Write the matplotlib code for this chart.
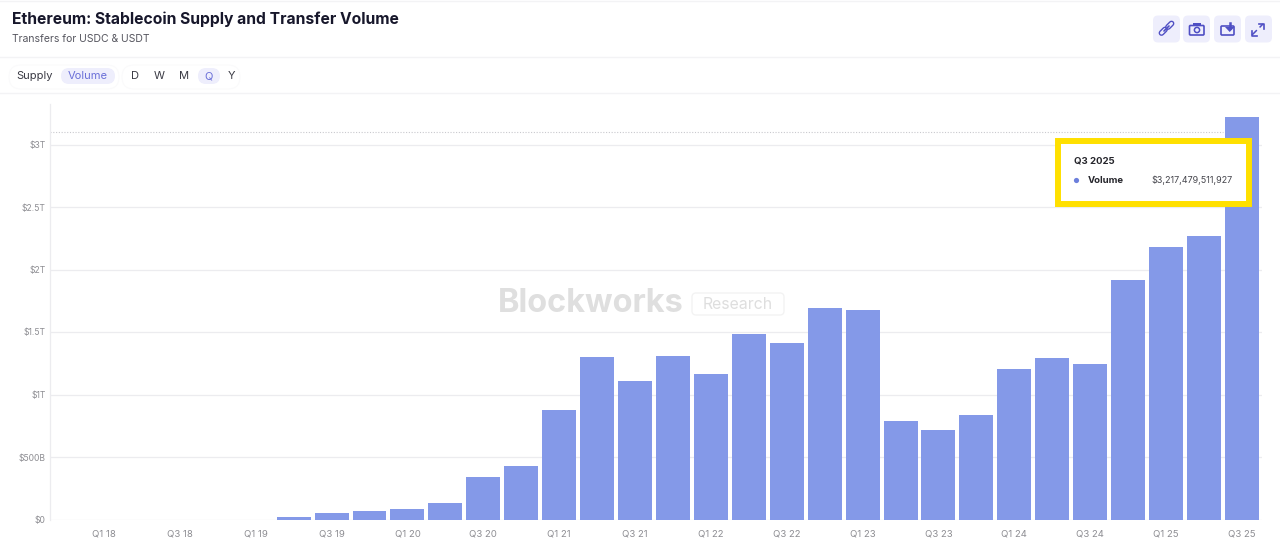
import matplotlib
matplotlib.use("Agg")
import matplotlib.pyplot as plt
from matplotlib.patches import FancyBboxPatch, Rectangle, Circle, Polygon
import numpy as np

W, H = 1280, 552

# ─ DATA ─
quarters = [
    "Q1 18", "Q2 18", "Q3 18", "Q4 18", "Q1 19", "Q2 19", "Q3 19", "Q4 19",
    "Q1 20", "Q2 20", "Q3 20", "Q4 20", "Q1 21", "Q2 21", "Q3 21", "Q4 21",
    "Q1 22", "Q2 22", "Q3 22", "Q4 22", "Q1 23", "Q2 23", "Q3 23", "Q4 23",
    "Q1 24", "Q2 24", "Q3 24", "Q4 24", "Q1 25", "Q2 25", "Q3 25",
]
volume = [
    0, 0, 0, 0, 0, 0.018, 0.055, 0.07,
    0.088, 0.135, 0.34, 0.43, 0.875, 1.3, 1.11, 1.31,
    1.165, 1.485, 1.41, 1.69, 1.675, 0.785, 0.715, 0.835,
    1.205, 1.29, 1.245, 1.92, 2.18, 2.265, 3.217479511927,
]
y_ticks = [0, 0.5, 1, 1.5, 2, 2.5, 3]
y_labels = ["$0", "$500B", "$1T", "$1.5T", "$2T", "$2.5T", "$3T"]
ref_level = 3.104

BAR = "#8499e8"
GRID = "#ececef"
INK = "#17172b"
GREY = "#8d8d92"
PILL = "#eeeefc"
ACCENT = "#6a6fd8"
ICON = "#4f4fc4"

plt.rcParams["font.family"] = ["Inter", "DejaVu Sans"]

fig = plt.figure(figsize=(W / 100, H / 100), dpi=100, facecolor="white")

# ─ CHART ─
px_left, px_right, px_top, px_zero = 50, 1262, 104, 519.5
ax = fig.add_axes([px_left / W, 1 - px_zero / H,
                   (px_right - px_left) / W, (px_zero - px_top) / H])
x = np.arange(len(quarters))
ax.bar(x, volume, width=0.895, color=BAR, zorder=3)
ax.hlines(ref_level, -1.424, 29.5, color="#c9c9ce", lw=0.8, ls=(0, (1, 1.5)), zorder=1)
ax.set_xlim(-1.424, 30.53)
ax.set_ylim(0, (px_zero - px_top) / 125)
ax.set_yticks(y_ticks, y_labels)
ax.set_xticks(x[::2], quarters[::2])
ax.tick_params(axis="both", length=0, labelcolor=GREY)
ax.tick_params(axis="x", pad=7, labelsize=6.9)
ax.tick_params(axis="y", pad=3, labelsize=6.2)
ax.grid(axis="y", color=GRID, lw=0.9, zorder=0)
ax.set_axisbelow(True)
for name in ["top", "right", "bottom"]:
    ax.spines[name].set_visible(False)
ax.spines["left"].set_color(GRID)
ax.spines["left"].set_linewidth(0.9)

# ─ PAGE OVERLAY (pixel coordinates) ─
ui = fig.add_axes([0, 0, 1, 1], zorder=5)
ui.set_xlim(0, W)
ui.set_ylim(H, 0)
ui.axis("off")
ui.patch.set_alpha(0)

for yy in [0.5, 57, 93]:
    ui.plot([0, W], [yy, yy], color="#f3f3f5", lw=1)

ui.text(12, 19.5, "Ethereum: Stablecoin Supply and Transfer Volume", fontsize=11.27,
        fontweight="bold", color=INK, va="center")
ui.text(12, 38.5, "Transfers for USDC & USDT", fontsize=7.5, color="#55555e", va="center")


def pill(x0, y0, w, h, color, ec="none"):
    r = min(w, h) / 2
    ui.add_patch(FancyBboxPatch((x0 + r, y0 + r), w - 2 * r, h - 2 * r,
                                boxstyle=f"round,pad={r}", fc=color, ec=ec, lw=0.8))


pill(9, 65, 110, 24, "white", "#fafafb")
pill(122, 65, 118, 24, "white", "#fafafb")
pill(61, 68, 54, 16, PILL)
pill(198, 68, 22, 16, PILL)
ui.text(35, 76, "Supply", fontsize=8, color="#3a3a44", ha="center", va="center")
ui.text(87.5, 76, "Volume", fontsize=8, color=ACCENT, ha="center", va="center")
for label, cx, col in [("D", 135, "#3a3a44"), ("W", 159, "#3a3a44"), ("M", 184, "#3a3a44"),
                       ("Q", 208.5, ACCENT), ("Y", 231.5, "#3a3a44")]:
    ui.text(cx, 76, label, fontsize=8, color=col, ha="center", va="center")

# toolbar buttons
for bx in [1153, 1183, 1214, 1245]:
    ui.add_patch(FancyBboxPatch((bx + 5, 20.5), 17, 17, boxstyle="round,pad=5",
                                fc=PILL, ec="none"))

# link icon: two diagonal links, each an outlined capsule
for seg in [((1161.5, 33), (1165, 29.5)), ((1168, 27), (1171.5, 23.5))]:
    xs, ys = zip(*seg)
    ui.plot(xs, ys, color=ICON, lw=4.2, solid_capstyle="round")
    ui.plot(xs, ys, color=PILL, lw=2.2, solid_capstyle="round")
ui.plot([1164, 1169], [31, 26], color=ICON, lw=1.2, solid_capstyle="round")
# camera icon
ui.add_patch(FancyBboxPatch((1190.5, 26.5), 12.5, 7.5, boxstyle="round,pad=1",
                            fc="none", ec=ICON, lw=1.2))
ui.add_patch(Rectangle((1193, 23), 8, 2.5, fc=ICON, ec="none"))
ui.add_patch(Circle((1197, 30), 2.6, fc="none", ec=ICON, lw=1.1))
# download icon
ui.add_patch(FancyBboxPatch((1222, 27), 11, 7, boxstyle="round,pad=1",
                            fc="none", ec=ICON, lw=1.2))
ui.add_patch(Polygon([[1225, 27], [1234.5, 27], [1229.7, 32]], fc=ICON, ec="none"))
ui.plot([1229.7, 1229.7], [23, 28], color=ICON, lw=1.8)
# expand icon
ui.plot([1252, 1263], [35, 24], color=ICON, lw=1.1, ls=(0, (4.5, 2.5)))
ui.plot([1251.5, 1251.5, 1256.5], [30.5, 35.5, 35.5], color=ICON, lw=1.2)
ui.plot([1258.5, 1263.5, 1263.5], [23.5, 23.5, 28.5], color=ICON, lw=1.2)

# watermark
ui.text(498, 303, "Blockworks", fontsize=23.4, fontweight="bold", color="#dfdfdf", va="center")
ui.add_patch(FancyBboxPatch((696, 297), 84, 14, boxstyle="round,pad=4",
                            fc="none", ec="#f3f3f3", lw=1))
ui.text(738, 304.5, "Research", fontsize=11.4, color="#dedede", ha="center", va="center")

# tooltip
ui.add_patch(Rectangle((1058, 141), 191, 63, fc="white", ec="#ffe000", lw=4.3))
ui.text(1074, 161, "Q3 2025", fontsize=6.9, fontweight="bold", color="#26262c", va="center")
ui.add_patch(Circle((1076.5, 180.5), 2.6, fc="#6c7fdc", ec="none"))
ui.text(1087.5, 180.5, "Volume", fontsize=6.9, fontweight="bold", color="#26262c", va="center")
ui.text(1233, 180.5, f"${volume[-1] * 1e12:,.0f}", fontsize=6.45, color="#45454c",
        ha="right", va="center")

fig.savefig("out.png", dpi=100)
